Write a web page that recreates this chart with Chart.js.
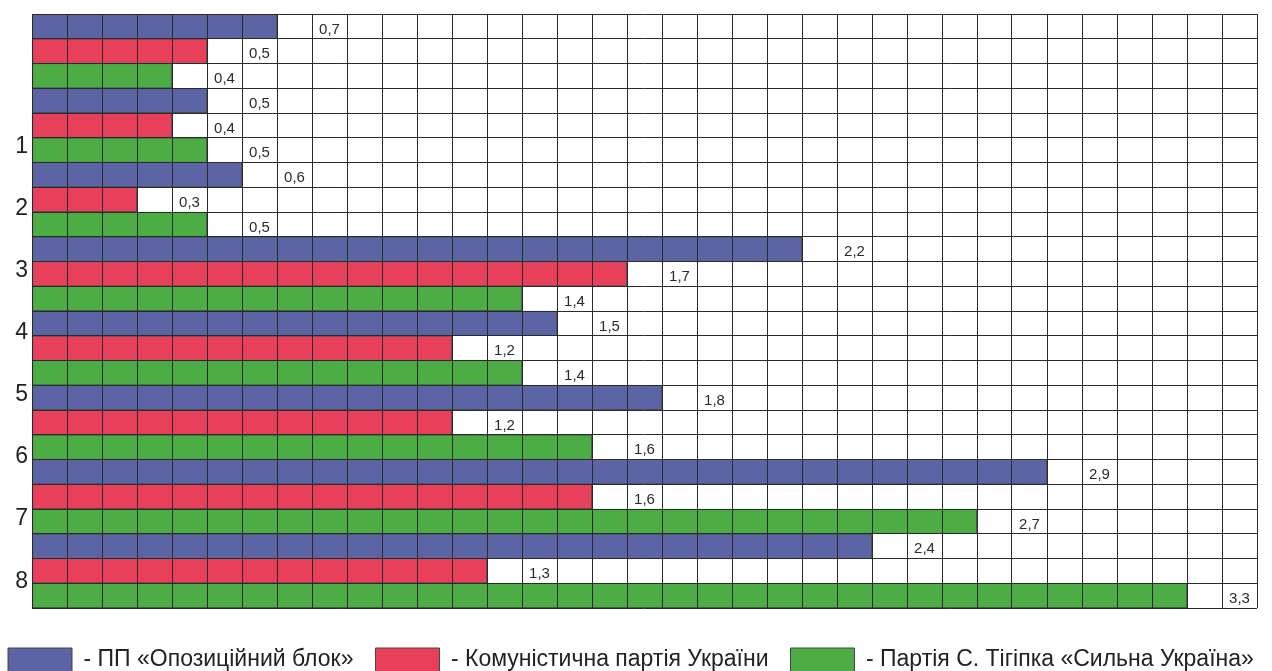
<!DOCTYPE html>
<html>
<head>
<meta charset="utf-8">
<script src="https://cdn.jsdelivr.net/npm/chart.js@4.4.1/dist/chart.umd.min.js"></script>
<style>
html,body{margin:0;padding:0;background:#fff;overflow:hidden;width:1272px;height:671px}
#wrap{position:absolute;left:0;top:0;width:1400px;height:682px}
</style>
</head>
<body>
<div id="wrap"><canvas id="c" width="1400" height="682"></canvas></div>
<script>
// ---- data ----
const groupLabels = ['1', '2', '3', '4', '5', '6', '7', '8'];
const seriesNames = [
  '- ПП «Опозиційний блок»',
  '- Комуністична партія України',
  '- Партія С. Тігіпка «Сильна Україна»'
];
const oppositionBloc = [0.7, 0.5, 0.6, 2.2, 1.5, 1.8, 2.9, 2.4];
const communistParty = [0.5, 0.4, 0.3, 1.7, 1.2, 1.2, 1.6, 1.3];
const strongUkraine  = [0.4, 0.5, 0.5, 1.4, 1.4, 1.6, 2.7, 3.3];

const seriesValues = [oppositionBloc, communistParty, strongUkraine];
const seriesColors = ['#5b65a6', '#e8405a', '#4dad45'];

// one row per (group, party); rows ordered group by group
const rowLabels = [];
groupLabels.forEach(g => seriesNames.forEach(s => rowLabels.push(g + ' ' + s)));

const datasets = seriesValues.map((vals, s) => {
  const data = rowLabels.map(() => null);
  vals.forEach((v, g) => { data[g * 3 + s] = v; });
  return {
    label: seriesNames[s],
    data: data,
    backgroundColor: seriesColors[s],
    borderColor: '#444',
    borderWidth: 1,
    borderSkipped: false,
    grouped: false,
    barPercentage: 1,
    categoryPercentage: 1
  };
});

Chart.defaults.font.family = "'Liberation Sans', Arial, Helvetica, sans-serif";
Chart.defaults.color = '#222';

const GRID = '#2a2a2a';

const valueLabels = {
  id: 'valueLabels',
  afterDraw(chart) {
    const ctx = chart.ctx;
    const xs = chart.scales.x;
    ctx.save();
    ctx.font = "15px 'Liberation Sans', Arial, sans-serif";
    ctx.fillStyle = '#2a2a2a';
    ctx.textAlign = 'center';
    ctx.textBaseline = 'middle';
    chart.data.datasets.forEach((ds, di) => {
      const meta = chart.getDatasetMeta(di);
      meta.data.forEach((el, i) => {
        const v = ds.data[i];
        if (v === null || v === undefined) return;
        const x = xs.getPixelForValue(v + 0.15);
        ctx.fillText(v.toFixed(1).replace('.', ','), x, el.y + 3);
      });
    });
    ctx.restore();
  }
};

const noPad = s => { s.paddingTop = 0; s.paddingBottom = 0; };

new Chart(document.getElementById('c'), {
  type: 'bar',
  data: { labels: rowLabels, datasets: datasets },
  options: {
    indexAxis: 'y',
    responsive: false,
    animation: false,
    events: [],
    layout: { padding: { left: -14, top: 14, right: 0, bottom: 0 } },
    plugins: {
      tooltip: { enabled: false },
      legend: {
        position: 'bottom',
        align: 'start',
        labels: {
          boxWidth: 64,
          boxHeight: 24,
          padding: 22,
          color: '#222',
          font: { size: 23 }
        }
      }
    },
    scales: {
      x: {
        type: 'linear',
        position: 'bottom',
        min: 0,
        max: 3.5,
        grid: { color: GRID, lineWidth: 1, drawTicks: false, z: 1 },
        border: { display: false },
        ticks: { display: false, stepSize: 0.1, maxTicksLimit: 100 },
        afterFit: s => { s.height = 18; s.paddingLeft = 0; s.paddingRight = 0; }
      },
      y: {
        type: 'category',
        position: 'left',
        offset: true,
        grid: { offset: true, color: GRID, lineWidth: 1, drawTicks: false, z: 1 },
        border: { display: false },
        ticks: { display: false },
        afterFit: s => { s.width = 0; noPad(s); }
      },
      yLab: {
        type: 'linear',
        position: 'left',
        offset: false,
        min: 0,
        max: 24,
        reverse: true,
        grid: { display: false, drawTicks: false, offset: false },
        border: { display: false },
        afterBuildTicks: s => { s.ticks = groupLabels.map((_, i) => ({ value: 5.35 + 2.51 * i })); },
        afterFit: s => { s.width = 46; noPad(s); },
        ticks: {
          autoSkip: false,
          padding: 4,
          color: '#222',
          font: { size: 23 },
          callback: (v, i) => groupLabels[i]
        }
      },
      yRight: {
        type: 'linear',
        position: 'right',
        offset: false,
        grid: { display: false, drawTicks: false, offset: false },
        border: { display: false },
        ticks: { display: false },
        afterFit: s => { s.width = 143; noPad(s); }
      }
    }
  },
  plugins: [valueLabels]
});
</script>
</body>
</html>
